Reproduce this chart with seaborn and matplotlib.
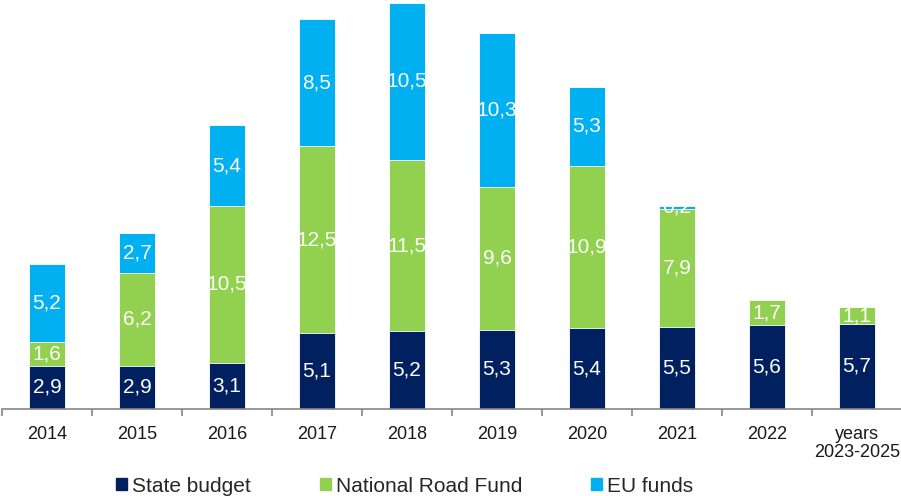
import numpy as np
import matplotlib
matplotlib.use("Agg")
import matplotlib.pyplot as plt
import matplotlib.patches as mpatches
import seaborn as sns

# ─────────────────────────────
# DATA
# ─────────────────────────────
YEARS = ["2014", "2015", "2016", "2017", "2018", "2019",
         "2020", "2021", "2022", "years\n2023-2025"]
state_budget = [2.9, 2.9, 3.1, 5.1, 5.2, 5.3, 5.4, 5.5, 5.6, 5.7]
road_fund    = [1.6, 6.2, 10.5, 12.5, 11.5, 9.6, 10.9, 7.9, 1.7, 1.1]
eu_funds     = [5.2, 2.7, 5.4, 8.5, 10.5, 10.3, 5.3, 0.2, 0.0, 0.0]

SERIES = ["State budget", "National Road Fund", "EU funds"]
COLORS = ["#002060", "#92D050", "#00B0F0"]

# ─────────────────────────────
# SETUP
# ─────────────────────────────
sns.set_style("white")
plt.rcParams["font.family"] = ["Liberation Sans", "DejaVu Sans"]

fig = plt.figure(figsize=(9.01, 4.96), dpi=100)
ax = fig.add_axes([2 / 901, 87 / 496, 900 / 901, 409 / 496])

s = np.array(state_budget)
r = np.array(road_fund)
e = np.array(eu_funds)
layers = [
    (s + r + e, COLORS[2], s + r, e),
    (s + r,     COLORS[1], s,     r),
    (s,         COLORS[0], 0 * s, s),
]

# stacked bars drawn as overlaid cumulative totals
for heights, color, bottoms, vals in layers:
    n_before = len(ax.patches)
    sns.barplot(x=YEARS, y=heights, order=YEARS, color=color, saturation=1,
                width=0.4, errorbar=None, edgecolor="white", linewidth=0.6, ax=ax)
    bars = ax.patches[n_before:]
    for i, (bar, b, v) in enumerate(zip(bars, bottoms, vals)):
        if v <= 0:
            continue
        t = ax.text(i, b + v / 2, f"{v:.1f}".replace(".", ","),
                    ha="center", va="center", color="white",
                    fontsize=15, zorder=5)
        t.set_clip_path(bar)

ax.set_xlim(-0.5, len(YEARS) - 0.5)
ax.set_ylim(0, 27.4)
ax.set_xlabel("")
ax.set_ylabel("")
ax.set_yticks([])

for side in ["top", "right", "left"]:
    ax.spines[side].set_visible(False)
ax.spines["bottom"].set_color("#868686")
ax.spines["bottom"].set_linewidth(1.2)

ax.set_xticks(range(len(YEARS)))
ax.set_xticklabels(YEARS, fontsize=13, color="#1a1a1a", linespacing=1.1)
ax.set_xticks(np.arange(-0.5, len(YEARS)), minor=True)
ax.tick_params(axis="x", which="major", length=0, pad=12)
ax.tick_params(axis="x", which="minor", direction="out", length=5,
               width=1.2, color="#868686", bottom=True)

handles = [mpatches.Patch(color=c, label=l) for c, l in zip(COLORS, SERIES)]
fig.legend(handles=handles, loc="center left", bbox_to_anchor=(116 / 901, 10 / 496),
           ncol=3, frameon=False, fontsize=15, handlelength=0.53, handleheight=0.53,
           handletextpad=0.25, columnspacing=3.3, borderpad=0, borderaxespad=0)

fig.savefig("out.png", dpi=100)
